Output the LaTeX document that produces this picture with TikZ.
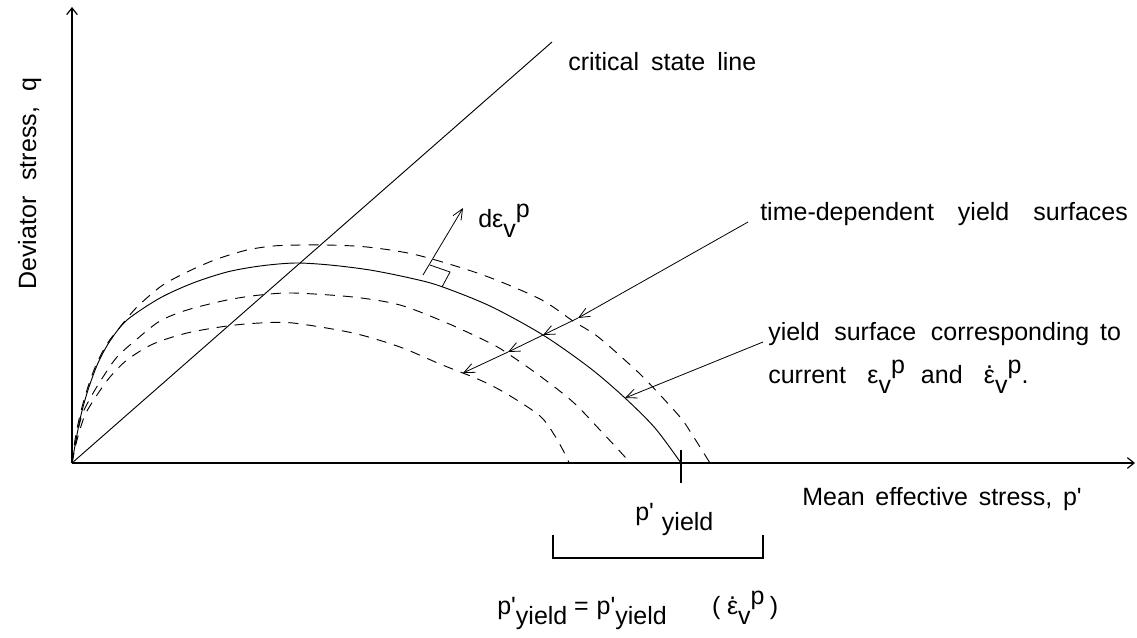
\documentclass[tikz,border=0pt]{standalone}
\usepackage{fontspec}
\setmainfont{Liberation Sans}[Ligatures=TeXOff]
\usetikzlibrary{arrows.meta}
\newcommand\dn[1]{\raisebox{-0.4em}{#1}}
\newcommand\up[1]{\raisebox{0.4em}{#1}}
\newcommand\edot{\ooalign{ε\cr\hidewidth\raisebox{0.6em}{.}\hidewidth\cr}}
\begin{document}
\begin{tikzpicture}[x=0.75pt,y=-0.75pt,
  font=\fontsize{18.75}{22}\selectfont,
  lab/.style={anchor=base west, inner sep=0pt},
  axis/.style={line width=0.9pt, -{Straight Barb[length=5pt,width=8pt]}},
  curve/.style={line width=0.7pt},
  dcurve/.style={line width=0.7pt, dash pattern=on 7.5pt off 6pt},
  ptr/.style={line width=0.6pt, -{Straight Barb[length=8pt,width=7pt]}}]
\useasboundingbox (0,0) rectangle (1137,637);

% axes
\coordinate (O) at (72,463);
\coordinate (xend) at (1135,463);
\coordinate (yend) at (72,7);
\draw[axis] (O) -- (xend);
\draw[axis] (O) -- (yend);

% critical state line
\coordinate (cslend) at (552,42);
\draw[curve] (O) -- (cslend);

% current yield surface (solid)
\draw[curve] plot[smooth, tension=0.5] coordinates {(72,463) (76,440) (81,415) (88,390) (98,363) (110,341) (127,320) (160,298) (193,283) (227,272) (260,266) (295,263) (330,265) (370,270) (410,278) (440,286) (490,306) (543,335) (590,368) (625,398) (655,428) (681,463)};

% time-dependent yield surfaces (dashed)
\draw[dcurve] plot[smooth, tension=0.5] coordinates {(72,463) (75,440) (80,415) (87,390) (96,365) (107,344) (120,327) (137,307) (160,287) (177,277) (200,266) (220,258) (247,250) (273,246) (300,245) (327,245) (367,247) (417,255) (483,275) (540,299) (573,321) (597,336) (627,362) (647,381) (680,417) (693,436) (705,455) (710,463)};
\draw[dcurve] plot[smooth, tension=0.5] coordinates {(72,463) (76,440) (82,415) (92,395) (103,377) (117,357) (137,339) (160,321) (187,310) (227,300) (260,295) (293,293) (353,297) (400,305) (447,323) (490,343) (507,353) (540,376) (573,402) (600,430) (625,457) (629,463)};
\draw[dcurve] plot[smooth, tension=0.5] coordinates {(72,463) (77,440) (85,415) (97,395) (110,377) (127,360) (153,344) (187,333) (227,326) (260,323) (293,323) (353,333) (400,347) (440,364) (480,380) (507,394) (540,416) (555,436) (566,456) (569,463)};

% p' yield tick
\coordinate (tk1) at (681,450);
\coordinate (tk2) at (681,483);
\draw[line width=0.8pt] (tk1) -- (tk2);

% normal plastic strain increment
\coordinate (de0) at (423,275);
\coordinate (de1) at (463,208);
\draw[ptr] (de0) -- (de1);
\coordinate (ra1) at (430,265);
\coordinate (ra2) at (450,272);
\coordinate (ra3) at (442,287);
\draw[line width=0.6pt] (ra1) -- (ra2) -- (ra3);
\node[lab] (del) at (478,227) {dε\dn{v}\up{p}};

% pointers
\coordinate (t0) at (748,222);
\coordinate (t1) at (578,318);
\coordinate (t2) at (543,335);
\coordinate (t3) at (508,352);
\coordinate (t4) at (463,373);
\draw[ptr] (t0) -- (t1);
\draw[ptr] (t1) -- (t2);
\draw[ptr] (t2) -- (t3);
\draw[ptr] (t3) -- (t4);
\coordinate (c0) at (763,342);
\coordinate (c1) at (625,398);
\draw[ptr] (c0) -- (c1);

% bracket
\coordinate (b1) at (553,535);
\coordinate (b2) at (553,558);
\coordinate (b3) at (763,558);
\coordinate (b4) at (763,535);
\draw[line width=0.8pt] (b1) -- (b2) -- (b3) -- (b4);

% labels
\node[lab] (csl) at (568,70) {critical\hspace{9pt}state\hspace{9pt}line};
\node[lab] (tds) at (760,220) {time-dependent\hspace{18pt}yield\hspace{18pt}surfaces};
\node[lab] (ysc) at (768,340) {yield\hspace{11pt}surface\hspace{11pt}corresponding\hspace{8pt}to};
\node[lab] (cur) at (768,383) {current\hspace{16pt}ε\dn{v}\up{p}\hspace{12pt}and\hspace{16pt}\edot\dn{v}\up{p}.};
\node[lab] (xl) at (802,505) {Mean\hspace{8pt}effective\hspace{8pt}stress,\hspace{8pt}p'};
\node[lab, rotate=90] (yl) at (36,290) {Deviator\hspace{12pt}stress,\hspace{12pt}q};
\node[lab] (py) at (635,520) {p'\hspace{6pt}\dn{yield}};
\node[lab] (frm) at (497,614) {p'\dn{yield}\hspace{5pt}=\hspace{6pt}p'\dn{yield}\hspace{34pt}(\hspace{5pt}\edot\dn{v}\up{p}\hspace{4pt})};
\end{tikzpicture}
\end{document}
